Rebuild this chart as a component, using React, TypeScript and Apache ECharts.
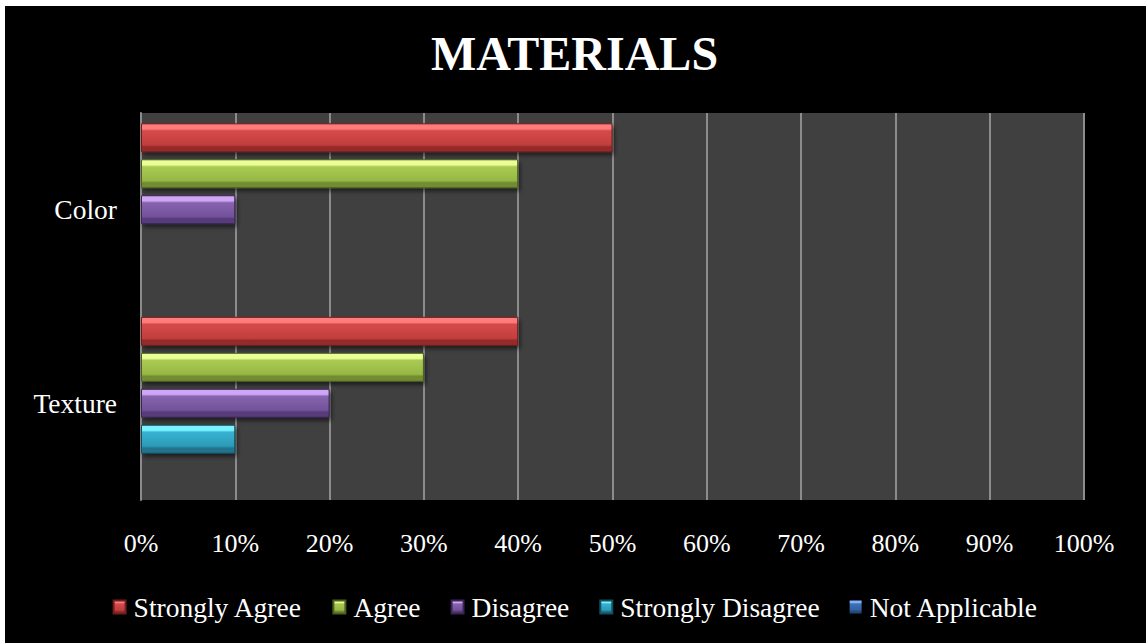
import React, { useEffect, useRef } from "react";
import * as echarts from "echarts";

const categories = ["Color", "Texture"];
const seriesNames = ["Strongly Agree", "Agree", "Disagree", "Strongly Disagree", "Not Applicable"];
const stronglyAgree = [50, 40];
const agree = [40, 30];
const disagree = [10, 20];
const stronglyDisagree = [0, 10];
const notApplicable = [0, 0];
const xTicks = [0, 10, 20, 30, 40, 50, 60, 70, 80, 90, 100];

const palettes = [
  { top: "#ff7c7c", mid: "#d64a4a", low: "#c23e3e", bot: "#962c2c", border: "#6e1e1e" },
  { top: "#ecff96", mid: "#aacb52", low: "#96b745", bot: "#718c31", border: "#4d6020" },
  { top: "#cfa6f5", mid: "#8765b0", low: "#72519a", bot: "#573c7a", border: "#3a2656" },
  { top: "#7af2ff", mid: "#38b2d2", low: "#2b9ab8", bot: "#20738b", border: "#134f62" },
  { top: "#7fb2ff", mid: "#3f72b8", low: "#335f9f", bot: "#244878", border: "#183156" },
];

const grad = (p: any) =>
  new echarts.graphic.LinearGradient(0, 0, 0, 1, [
    { offset: 0, color: p.top },
    { offset: 0.18, color: p.top },
    { offset: 0.25, color: p.mid },
    { offset: 0.75, color: p.low },
    { offset: 0.82, color: p.bot },
    { offset: 1, color: p.bot },
  ]);

export default function App() {
  const ref = useRef<HTMLDivElement>(null);
  useEffect(() => {
    if (!ref.current) return;
    const chart = echarts.init(ref.current, null, { renderer: "svg" });
    const font = "'Liberation Serif', 'Times New Roman', serif";
    const dataSets = [stronglyAgree, agree, disagree, stronglyDisagree, notApplicable];
    chart.setOption({
      animation: false,
      backgroundColor: "#000000",
      textStyle: { fontFamily: font },
      graphic: [
        {
          type: "text",
          x: 569.5,
          y: 47,
          style: {
            text: "MATERIALS",
            fill: "#ffffff",
            font: `bold 48px ${font}`,
            align: "center",
            verticalAlign: "middle",
          },
        },
      ],
      legend: {
        top: 582,
        left: "center",
        itemWidth: 12,
        itemHeight: 13,
        itemGap: 30,
        icon: "rect",
        data: seriesNames,
        textStyle: { color: "#ffffff", fontSize: 27.5, fontFamily: font, padding: [0, 0, 0, 3] },
      },
      grid: {
        left: 136,
        right: 62,
        top: 107,
        bottom: 143,
        show: true,
        backgroundColor: "#404040",
        borderWidth: 0,
        containLabel: false,
      },
      xAxis: {
        type: "value",
        min: 0,
        max: 100,
        interval: 10,
        axisLine: { show: false },
        axisTick: { show: false },
        splitLine: { show: true, lineStyle: { color: "#8c8c8c", width: 2 } },
        axisLabel: {
          color: "#ffffff",
          fontSize: 26,
          fontFamily: font,
          margin: 30,
          formatter: (v: number) => (xTicks.includes(v) ? `${v}%` : ""),
        },
      },
      yAxis: {
        type: "category",
        inverse: true,
        data: categories,
        axisLine: { show: true, lineStyle: { color: "#8c8c8c", width: 2 } },
        axisTick: { show: false },
        splitLine: { show: false },
        axisLabel: { color: "#ffffff", fontSize: 27.5, fontFamily: font, margin: 24 },
      },
      series: seriesNames.map((name, i) => ({
        name,
        type: "bar",
        data: dataSets[i],
        barWidth: 29,
        barGap: "24%",
        itemStyle: {
          color: grad(palettes[i]),
          borderColor: palettes[i].border,
          borderWidth: i === 4 ? 0 : 1,
          shadowColor: "rgba(0,0,0,0.55)",
          shadowBlur: 4,
          shadowOffsetX: 2,
          shadowOffsetY: 3,
        },
      })),
    });
    return () => chart.dispose();
  }, []);
  return (
    <div style={{ position: "fixed", left: 0, top: 0, width: 1146, height: 643, background: "#ffffff" }}>
      <div ref={ref} style={{ position: "absolute", left: 5, top: 6, width: 1141, height: 637 }} />
    </div>
  );
}
